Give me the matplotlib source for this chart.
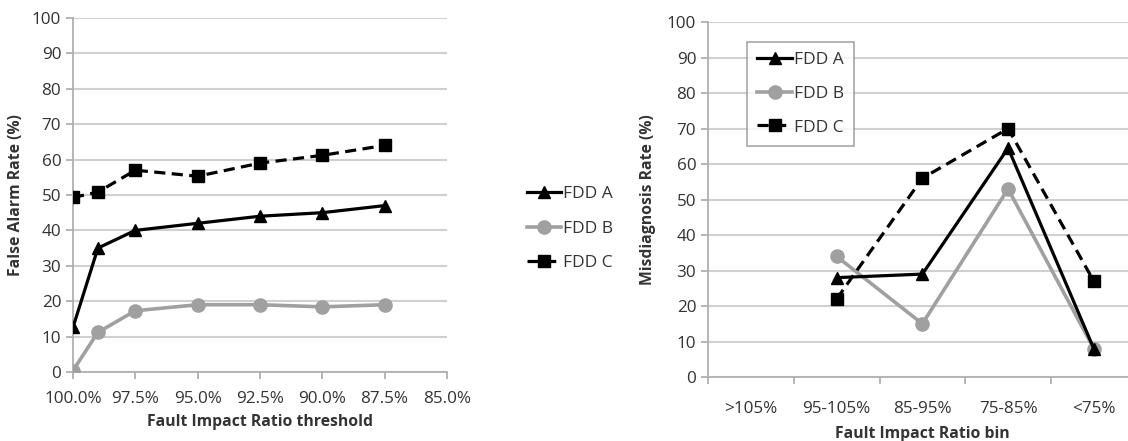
import numpy as np
import matplotlib
matplotlib.use("Agg")
import matplotlib.pyplot as plt

plt.rcParams['font.family'] = ['Open Sans', 'DejaVu Sans']

# left chart: false alarm rate vs threshold
thresholds = [100.0, 99.0, 97.5, 95.0, 92.5, 90.0, 87.5]
fa_A = [12.6, 35, 40, 42, 44, 45, 47]
fa_B = [0.4, 11.2, 17.3, 19, 19, 18.4, 19]
fa_C = [49.3, 50.8, 57, 55.3, 59, 61.2, 64]
x_ticks_left = [100.0, 97.5, 95.0, 92.5, 90.0, 87.5, 85.0]

# right chart: misdiagnosis rate per bin
bins = ['>105%', '95-105%', '85-95%', '75-85%', '<75%']
md_A = [np.nan, 28, 29, 64.5, 8]
md_B = [np.nan, 34, 15, 53, 8]
md_C = [np.nan, 22, 56, 70, 27]

labels = ['FDD A', 'FDD B', 'FDD C']
black = '#000000'
grey = '#a0a0a0'
gridc = '#d0d0d0'
tickc = '#333333'
fs_tick = 12.3
fs_lab = 11.3

fig = plt.figure(figsize=(11.28, 4.41), dpi=100)
ax1 = fig.add_axes([0.0647, 0.1565, 0.3315, 0.8027])
ax2 = fig.add_axes([0.6277, 0.145, 0.380, 0.805])

def style(ax):
    for s in ['top', 'right']:
        ax.spines[s].set_visible(False)
    for s in ['left', 'bottom']:
        ax.spines[s].set_color('#b0b0b0')
        ax.spines[s].set_linewidth(1.3)
    ax.set_ylim(0, 100)
    ax.set_yticks(range(0, 101, 10))
    ax.yaxis.grid(True, color=gridc, linewidth=1.5)
    ax.set_axisbelow(True)
    ax.tick_params(axis='both', which='major', color='#b0b0b0', length=5,
                   width=1.3, labelsize=fs_tick, labelcolor=tickc)

style(ax1)
ax1.plot(thresholds, fa_A, color=black, lw=2.3, marker='^', ms=8, label=labels[0], zorder=4)
ax1.plot(thresholds, fa_B, color=grey, lw=2.6, marker='o', ms=9.5, label=labels[1], zorder=3)
ax1.plot(thresholds, fa_C, color=black, lw=2.3, ls=(0, (3.5, 2)), marker='s', ms=8.5, label=labels[2], zorder=4)
ax1.set_xlim(100, 85)
ax1.set_xticks(x_ticks_left)
ax1.set_xticklabels(['%.1f%%' % t for t in x_ticks_left])
ax1.tick_params(axis='x', pad=9)
ax1.set_xlabel('Fault Impact Ratio threshold', fontsize=fs_lab, fontweight='bold',
               color=tickc, labelpad=5)
ax1.set_ylabel('False Alarm Rate (%)', fontsize=fs_lab, fontweight='bold',
               color=tickc, labelpad=6)
ax1.legend(loc='center left', bbox_to_anchor=(1.195, 0.405), frameon=False,
           fontsize=12.5, handlelength=2.0, handletextpad=0.1,
           labelspacing=1.05, labelcolor=tickc, borderaxespad=0)

style(ax2)
xpos = np.arange(len(bins))
ax2.plot(xpos, md_A, color=black, lw=2.3, marker='^', ms=8, label=labels[0], zorder=4)
ax2.plot(xpos, md_B, color=grey, lw=2.6, marker='o', ms=9.5, label=labels[1], zorder=3)
ax2.plot(xpos, md_C, color=black, lw=2.3, ls=(0, (3.5, 2)), marker='s', ms=8.5, label=labels[2], zorder=4)
ax2.set_xlim(-0.5, len(bins) - 0.5)
ax2.set_xticks(np.arange(-0.5, len(bins), 1.0))
ax2.set_xticklabels([])
ax2.set_xticks(xpos, minor=True)
ax2.set_xticklabels(bins, minor=True)
ax2.tick_params(axis='x', which='minor', length=0, pad=17, labelsize=fs_tick, labelcolor=tickc)
ax2.set_xlabel('Fault Impact Ratio bin', fontsize=fs_lab, fontweight='bold',
               color=tickc, labelpad=7)
ax2.set_ylabel('Misdiagnosis Rate (%)', fontsize=fs_lab, fontweight='bold',
               color=tickc, labelpad=8)
leg = ax2.legend(loc='upper left', bbox_to_anchor=(0.091, 0.944), frameon=True,
                 fancybox=False, fontsize=12.5, handlelength=2.0, handletextpad=0.1,
                 labelspacing=1.0, labelcolor=tickc, borderpad=0.6, borderaxespad=0)
leg.get_frame().set_edgecolor('#909090')
leg.get_frame().set_linewidth(1.2)

fig.savefig('out.png', dpi=100)
